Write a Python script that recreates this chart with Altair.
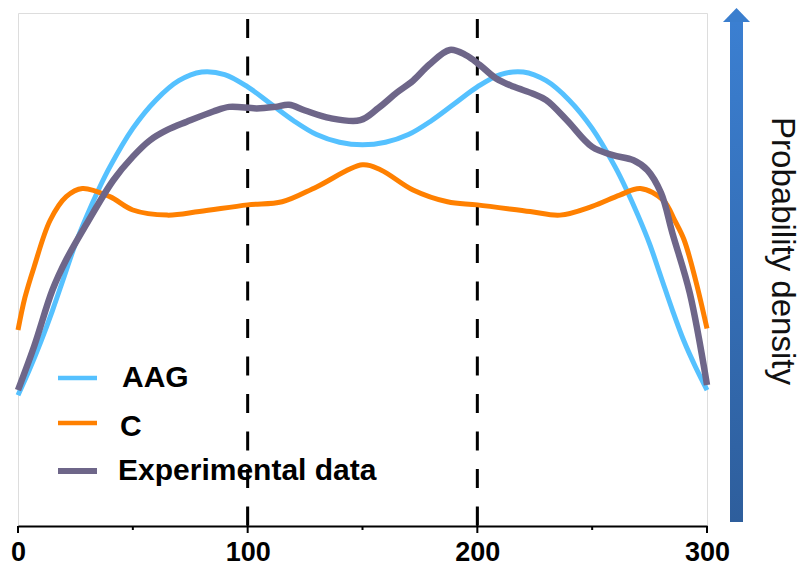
import altair as alt
import pandas as pd

# ---------------- data ----------------
series_names = ["AAG", "C", "Experimental data"]
series_colors = ["#55C1FF", "#FF8000", "#6E6689"]

aag_x = [0, 5, 10, 15, 20, 25, 30, 35, 40, 50, 60, 70, 80, 90, 100, 110, 120, 130, 140, 150,
         160, 170, 180, 190, 200, 210, 220, 230, 240, 250, 260, 265, 270, 275, 280, 285, 290, 295, 300]
aag_y = [25.5, 30.5, 36.0, 42.0, 48.5, 55.0, 60.5, 65.5, 70.0, 77.5, 83.0, 86.8, 88.5, 88.0, 85.6,
         82.3, 79.0, 76.3, 74.8, 74.3, 74.8, 76.3, 79.0, 82.3, 85.6, 88.0, 88.5, 86.8, 83.0, 77.5,
         70.0, 65.5, 60.5, 55.0, 48.5, 42.0, 36.0, 31.0, 26.5]

c_x = [0, 3, 7, 14, 21, 28, 40, 50, 65, 79, 100, 115, 130, 150, 158, 172, 187, 200, 223, 236,
       250, 262, 271, 281, 286, 290, 295, 300]
c_y = [38.2, 44.5, 50.5, 59.6, 64.2, 65.8, 64.2, 61.6, 60.6, 61.3, 62.6, 63.2, 66.1, 70.4, 69.4,
       65.5, 63.2, 62.6, 61.3, 60.6, 62.3, 64.5, 65.8, 63.5, 59.5, 55.8, 48.0, 38.5]

exp_x = [0, 7, 15, 21, 30, 41.5, 50, 57.5, 65, 73.5, 85, 92, 104, 112, 118, 125, 136, 149, 157,
         165, 172, 179, 188, 195, 201, 208, 216, 224, 230, 239, 250, 259, 268, 274, 280, 285, 292.5, 300]
exp_y = [26.5, 35.0, 46.0, 51.9, 59.0, 67.4, 72.0, 75.2, 77.2, 78.8, 80.8, 81.7, 81.4, 81.7, 82.1,
         81.0, 79.5, 79.1, 81.5, 84.5, 86.8, 89.9, 92.8, 91.8, 89.9, 87.3, 85.6, 84.3, 83.0, 79.1,
         73.9, 72.3, 71.3, 69.4, 64.9, 57.0, 45.4, 27.5]

x_label_values = [0, 100, 200, 300]
x_minor_ticks = [50, 150, 250]
x_inner_ticks = [100, 200]
dashed_at = [100, 200]
y_title = "Probability density"

# ---------------- layout ----------------
W, H = 689, 513
FONT = "Liberation Sans"

xs = alt.Scale(domain=[0, 300], nice=False, zero=False)
ys = alt.Scale(domain=[0, 100], nice=False, zero=False)

x_axis = alt.Axis(values=x_label_values, ticks=False, tickSize=0, grid=False,
                  labelFont=FONT, labelFontWeight="bold", labelFontSize=27,
                  labelColor="black", labelPadding=13, labelFlush=False,
                  domainColor="black", domainWidth=2, title=None)

rows = []
for name, xv, yv in zip(series_names, [aag_x, c_x, exp_x], [aag_y, c_y, exp_y]):
    for a, b in zip(xv, yv):
        rows.append({"series": name, "x": a, "y": b})
df = pd.DataFrame(rows)

widths = [5, 5, 6.5]
layers = []

# dashed reference lines
layers.append(
    alt.Chart(pd.DataFrame({"x": dashed_at})).mark_rule(
        color="black", strokeWidth=3, strokeDash=[19, 18.5]
    ).encode(x=alt.X("x:Q", scale=xs, axis=x_axis), y=alt.value(6), y2=alt.value(H))
)

# series lines
for name, col, w in zip(series_names, series_colors, widths):
    layers.append(
        alt.Chart(df[df.series == name]).mark_line(
            color=col, strokeWidth=w, interpolate="catmull-rom", strokeCap="butt"
        ).encode(x=alt.X("x:Q", scale=xs), y=alt.Y("y:Q", scale=ys, axis=None))
    )

# axis ticks
layers.append(
    alt.Chart(pd.DataFrame({"x": x_label_values})).mark_rule(color="black", strokeWidth=2)
    .encode(x=alt.X("x:Q", scale=xs), y=alt.value(H), y2=alt.value(H + 7))
)
layers.append(
    alt.Chart(pd.DataFrame({"x": x_minor_ticks})).mark_rule(color="black", strokeWidth=2)
    .encode(x=alt.X("x:Q", scale=xs), y=alt.value(H), y2=alt.value(H + 4))
)
layers.append(
    alt.Chart(pd.DataFrame({"x": x_inner_ticks})).mark_rule(color="black", strokeWidth=2)
    .encode(x=alt.X("x:Q", scale=xs), y=alt.value(H - 19), y2=alt.value(H))
)

# custom legend
leg_line_y = [365, 410, 458]
leg_text_y = [374, 422.5, 467]
leg_text_x = [104, 102, 100]
for i, (name, col, w) in enumerate(zip(series_names, series_colors, widths)):
    d = pd.DataFrame({"series": [name]})
    layers.append(
        alt.Chart(d).mark_rule(color=col, strokeWidth=w - 0.5)
        .encode(x=alt.value(40), x2=alt.value(79), y=alt.value(leg_line_y[i]))
    )
    layers.append(
        alt.Chart(d).mark_text(font=FONT, fontWeight="bold", fontSize=30, align="left",
                               baseline="alphabetic", color="black")
        .encode(x=alt.value(leg_text_x[i]), y=alt.value(leg_text_y[i]), text="series:N")
    )

# arrow on the right
grad = alt.LinearGradient(
    gradient="linear",
    stops=[alt.GradientStop(color="#3B7FD1", offset=0),
           alt.GradientStop(color="#2E5E9C", offset=1)],
    x1=0, x2=0, y1=0, y2=1,
)
arrow_d = pd.DataFrame({"label": [y_title]})
layers.append(
    alt.Chart(arrow_d).mark_rect(color=grad)
    .encode(x=alt.value(712), x2=alt.value(725), y=alt.value(9), y2=alt.value(509))
)
layers.append(
    alt.Chart(arrow_d).mark_point(shape="M0,-0.52L1,0.52L-1,0.52Z", filled=True, size=729,
                                  color="#3A7ECE", opacity=1, strokeWidth=0)
    .encode(x=alt.value(718.5), y=alt.value(2))
)
layers.append(
    alt.Chart(arrow_d).mark_text(font=FONT, fontSize=33, angle=90, align="center",
                                 baseline="middle", color="#111111")
    .encode(x=alt.value(764), y=alt.value(238), text="label:N")
)

chart = alt.layer(*layers).properties(
    width=W, height=H,
    autosize=alt.AutoSizeParams(type="none"),
    padding={"left": 18, "top": 13, "right": 96, "bottom": 40},
).configure_view(stroke="black", strokeWidth=2).configure(background="white")

chart.save("out.html", embed_options={"renderer": "svg", "actions": False})
